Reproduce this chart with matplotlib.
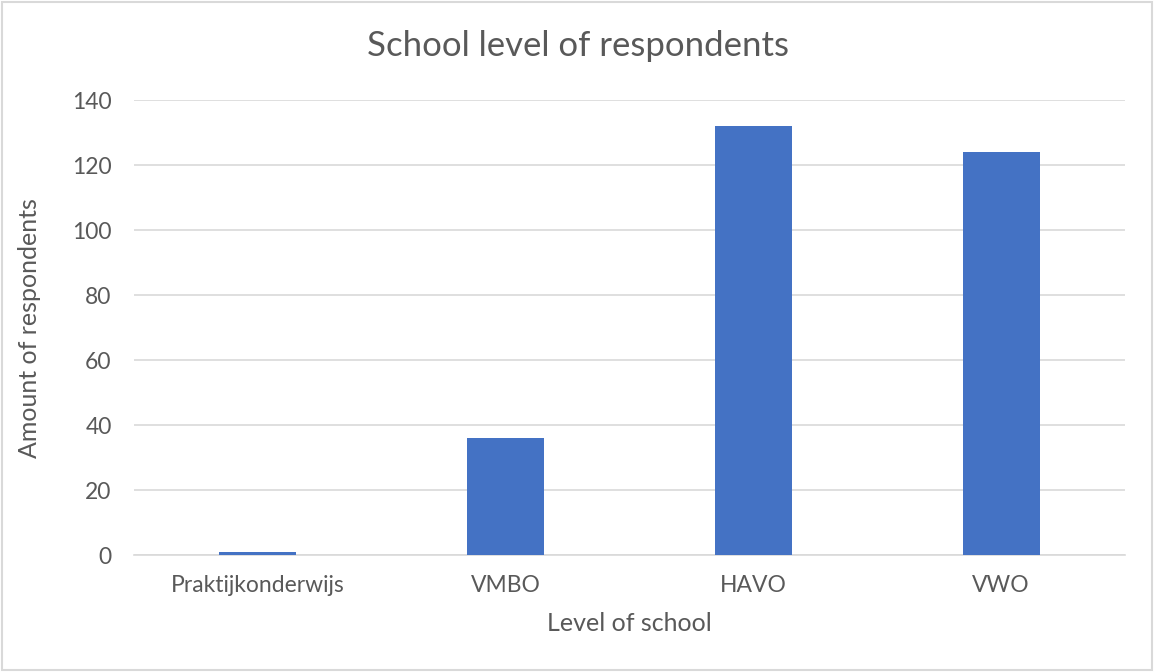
import matplotlib.pyplot as plt

# respondents per school level
levels = ['Praktijkonderwijs', 'VMBO', 'HAVO', 'VWO']
counts = [1, 36, 132, 124]
y_ticks = [0, 20, 40, 60, 80, 100, 120, 140]

plt.rcParams['font.family'] = ['Lato', 'DejaVu Sans']
text_col = '#595959'

fig = plt.figure(figsize=(11.54, 6.72), dpi=100)
ax = fig.add_axes([0.116, 0.174, 0.859, 0.677])

ax.bar(range(len(levels)), counts, width=0.31, color='#4472C4', zorder=3)
ax.set_xlim(-0.5, len(levels) - 0.5)
ax.set_ylim(0, 140)
ax.set_yticks(y_ticks)
ax.set_xticks(range(len(levels)))
ax.set_xticklabels(levels)

ax.grid(axis='y', color='#D9D9D9', linewidth=1.2, zorder=0)
for side in ['top', 'right', 'left']:
    ax.spines[side].set_visible(False)
ax.spines['bottom'].set_color('#D9D9D9')
ax.spines['bottom'].set_linewidth(1.2)
ax.tick_params(length=0, labelsize=16.5, colors=text_col)
ax.tick_params(axis='x', pad=14)
ax.tick_params(axis='y', pad=16)

# title sits centred over the whole chart, not just the axes
fig.text(0.501, 0.932, 'School level of respondents', fontsize=25, color=text_col,
         ha='center', va='center')
ax.set_xlabel('Level of school', fontsize=18, color=text_col, labelpad=12)
ax.set_ylabel('Amount of respondents', fontsize=18, color=text_col, labelpad=22)

# light frame round the whole chart
fig.patches.append(plt.Rectangle((0.002, 0.003), 0.996, 0.994, transform=fig.transFigure,
                                 fill=False, edgecolor='#D9D9D9', linewidth=1.5))

fig.savefig('out.png', dpi=100)
